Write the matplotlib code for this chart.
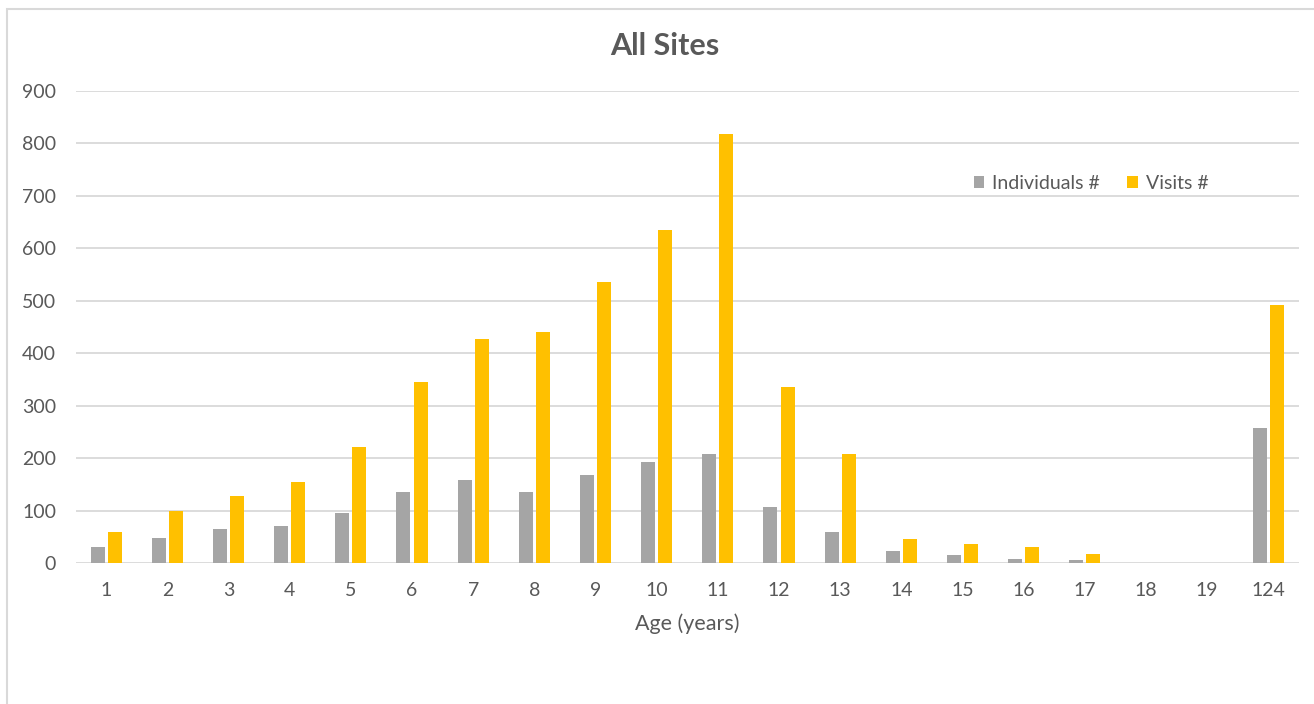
import matplotlib.pyplot as plt
import numpy as np
from matplotlib.patches import Rectangle

plt.rcParams['font.family'] = ['Lato', 'DejaVu Sans']

ages = ['1', '2', '3', '4', '5', '6', '7', '8', '9', '10', '11', '12', '13',
        '14', '15', '16', '17', '18', '19', '124']
individuals = [30, 47, 65, 71, 95, 135, 158, 135, 168, 192, 208, 107, 59,
               23, 15, 7, 5, 0, 0, 258]
visits = [59, 99, 128, 154, 221, 345, 427, 440, 536, 635, 818, 336, 208,
          46, 37, 30, 17, 0, 0, 492]

text_col = '#595959'
grid_col = '#d9d9d9'

fig = plt.figure(figsize=(13.14, 7.04), dpi=100)
ax = fig.add_axes([0.0575, 0.2003, 0.931, 0.6704])

x = np.arange(len(ages))
w = 0.23
ax.bar(x - 0.14, individuals, w, color='#a5a5a5', label='Individuals #', zorder=3)
ax.bar(x + 0.14, visits, w, color='#ffc000', label='Visits #', zorder=3)

ax.set_xlim(-0.5, len(ages) - 0.5)
ax.set_ylim(0, 900)
ax.set_yticks(range(0, 901, 100))
ax.set_xticks(x)
ax.set_xticklabels(ages)
ax.yaxis.grid(True, color=grid_col, linewidth=1.3, zorder=0)
ax.tick_params(length=0, labelsize=14, colors=text_col)
ax.tick_params(axis='x', pad=14)
ax.tick_params(axis='y', pad=14)
for s in ax.spines.values():
    s.set_visible(False)

ax.set_xlabel('Age (years)', fontsize=15.5, color=text_col, labelpad=10)
fig.text(0.506, 0.934, 'All Sites', ha='center', va='center', fontsize=22,
         fontweight='bold', color=text_col)

leg = ax.legend(loc='center', bbox_to_anchor=(0.83, 0.805), ncol=2, frameon=False,
                fontsize=14, handlelength=0.55, handleheight=0.55, columnspacing=1.4,
                handletextpad=0.4)
for t in leg.get_texts():
    t.set_color(text_col)

fig.patches.append(Rectangle((7 / 1314, -0.01), 1.0, 1 - 9 / 704 + 0.01,
                             transform=fig.transFigure, fill=False,
                             edgecolor=grid_col, linewidth=1.5))

plt.savefig('out.png', dpi=100)
